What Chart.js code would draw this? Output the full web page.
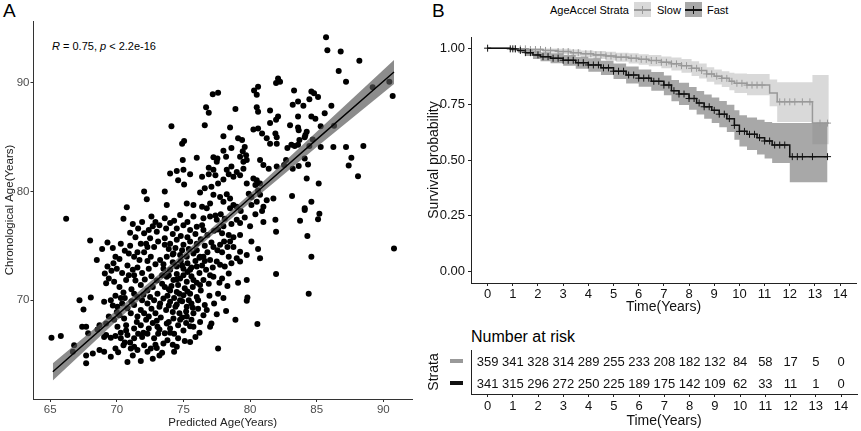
<!DOCTYPE html>
<html>
<head>
<meta charset="utf-8">
<script src="https://cdn.jsdelivr.net/npm/chart.js@4.4.0/dist/chart.umd.min.js"></script>
<style>
  body { margin: 0; width: 861px; height: 431px; background: #fff; position: relative; overflow: hidden;
         font-family: "Liberation Sans", Arial, sans-serif; }
  canvas { position: absolute; }
  .lbl { position: absolute; color: #000; white-space: nowrap; line-height: 1; }
  .key { position: absolute; width: 17px; height: 15px; }
  .key .h { position: absolute; left: 0; right: 0; top: 7px; height: 1.5px; }
  .key .v { position: absolute; left: 8px; top: 4px; width: 1px; height: 8px; }
</style>
</head>
<body>
<div class="lbl" style="left:3px;top:1px;font-size:19px">A</div>
<div class="lbl" style="left:432px;top:1px;font-size:19px">B</div>
<div class="lbl" style="left:52px;top:41px;font-size:11px"><i>R</i> = 0.75, <i>p</i> &lt; 2.2e-16</div>

<div class="lbl" style="left:550px;top:5px;font-size:11px">AgeAccel Strata</div>
<div class="key" style="left:634px;top:2px;background:#d9d9d9"><div class="h" style="background:#999"></div><div class="v" style="background:#999"></div></div>
<div class="lbl" style="left:657px;top:5px;font-size:11px">Slow</div>
<div class="key" style="left:685px;top:2px;background:#a8a8a8"><div class="h" style="background:#111"></div><div class="v" style="background:#111"></div></div>
<div class="lbl" style="left:707px;top:5px;font-size:11px">Fast</div>

<div class="lbl" style="left:471px;top:329px;font-size:16px">Number at risk</div>

<canvas id="scatter" width="420" height="431" style="left:0;top:0"></canvas>
<canvas id="km" width="441" height="320" style="left:420px;top:0"></canvas>
<canvas id="risk" width="441" height="86" style="left:420px;top:345px"></canvas>

<script>
// ---- panel A: predicted vs chronological age ----
const ageTicksX = [65, 70, 75, 80, 85, 90];
const ageTicksY = [70, 80, 90];

// [predicted, chronological]
const samples = [
  [72.05,80.0],[72.25,79.3],[70.75,78.55],
  [82.1,90.4],[82.25,90.1],[81.95,90.0],[80.6,89.65],[80.3,89.3],[80.5,88.9],[77.2,88.95],[77.6,89.1],
  [78.9,87.6],[76.7,87.75],[76.9,87.25],[80.5,87.75],[80.6,87.35],[81.5,87.45],[82.1,86.9],[81.95,86.6],
  [74.1,86.0],[76.6,86.1],[78.5,85.9],[80.25,85.7],[80.6,85.8],[81.5,86.3],[80.9,85.35],[81.25,84.9],
  [81.9,85.35],[82.0,85.0],[78.0,85.1],[74.9,84.4],[75.05,84.65],[79.1,84.9],[79.4,84.75],[81.5,84.4],
  [82.0,84.4],[79.6,84.1],[79.45,83.7],[79.7,83.35],[79.25,83.2],[79.5,82.75],[78.0,83.75],[78.2,83.2],
  [77.55,83.05],[77.25,83.15],[78.6,84.0],[74.95,82.9],[76.0,83.1],[80.75,82.9],[81.0,82.45],[76.9,82.2],
  [77.25,82.0],[77.5,82.75],[78.25,82.0],[78.6,82.3],[79.0,81.8],[79.25,81.5],[78.75,81.35],[79.5,82.1],
  [79.75,82.9],[80.25,81.2],[80.5,81.05],[80.75,80.75],[80.4,80.6],[81.4,82.1],[82.0,82.3],[82.55,82.45],
  [74.0,81.65],[74.5,81.9],[75.0,82.0],[75.5,81.6],[74.6,81.05],[75.05,80.65],[76.4,81.35],[76.9,81.6],
  [77.4,81.5],[78.0,81.1],[78.4,81.6],[77.6,80.75],[73.6,80.0],[76.25,79.9],[76.6,80.3],[77.1,80.45],
  [77.25,79.7],[77.75,79.5],[78.25,79.75],[78.0,79.05],[78.5,79.35],[78.75,78.75],[79.75,80.75],[79.9,79.8],
  [80.1,79.5],[80.6,80.1],[80.75,79.7],[80.1,78.75],[80.5,79.05],[81.0,78.6],[81.25,79.2],[81.75,79.35],
  [73.75,78.75],[75.25,78.9],[75.75,78.75],[76.4,78.6],[77.0,78.9],[76.75,78.45],[78.5,78.45],[79.0,78.6],
  [85.7,94.2],[85.8,93.0],[86.8,92.9],[88.2,92.05],[86.65,91.1],[87.2,90.1],[90.45,90.1],[90.7,88.8],
  [89.2,89.6],[83.3,89.3],[84.6,89.2],[84.8,89.05],[85.1,88.7],[84.45,88.5],[83.2,88.0],[83.6,88.3],
  [84.0,87.9],[86.1,87.9],[85.6,87.2],[83.6,86.9],[84.6,86.9],[84.9,86.7],[83.0,86.1],[83.6,85.9],
  [83.65,85.65],[84.25,85.5],[85.3,86.0],[86.3,86.05],[83.7,84.75],[84.1,85.0],[84.15,85.2],[83.1,84.3],
  [83.35,84.2],[83.6,84.3],[82.8,84.0],[84.7,84.8],[84.45,84.2],[85.3,84.1],[86.25,84.1],[87.2,84.1],
  [88.5,84.2],[87.6,83.1],[87.4,82.4],[88.1,81.4],[82.7,82.9],[83.2,82.1],[83.65,82.35],[84.1,83.05],
  [84.35,82.5],[84.25,81.2],[85.15,80.75],[83.15,79.6],[84.6,79.05],[84.1,78.45],
  [66.2,77.5],[70.5,77.5],[68.0,75.5],[69.3,75.3],[69.7,74.8],[68.9,74.7],[70.6,74.55],[70.9,74.3],
  [71.3,74.0],[71.55,74.4],[72.05,74.4],[72.55,74.0],[69.9,74.0],[68.5,73.7],[69.3,73.1],[69.75,73.4],
  [70.8,73.2],[71.2,72.8],[71.55,73.0],[70.9,72.3],[70.7,71.85],[72.05,76.15],[72.4,76.45],[72.7,76.8],
  [72.2,75.2],[72.8,74.9],[71.8,75.2],[69.1,72.45],[69.4,72.0],[69.8,71.7],[69.2,71.55],[67.2,70.0],
  [68.05,70.25],[67.5,69.15],[69.05,69.85],[69.55,70.0],[69.9,70.4],[70.3,70.2],[71.8,71.4],[72.3,70.9],
  [72.7,71.2],[73.05,70.6],[69.7,69.5],[70.05,69.4],[70.4,69.7],[70.8,69.25],[71.3,69.55],[71.55,70.3],
  [71.9,70.0],[72.3,69.7],[72.8,70.0],[73.2,69.4],[69.4,68.5],[69.8,68.2],[70.2,68.6],[70.55,68.3],
  [71.05,68.8],[71.55,68.5],[72.05,68.8],[72.4,68.5],[72.9,68.8],[67.4,67.55],[67.7,67.55],[68.7,67.7],
  [69.2,67.85],[70.05,67.55],[70.7,67.7],[71.3,67.4],[71.8,67.7],[72.4,67.4],[73.05,67.55],[65.1,66.55],
  [65.8,66.7],[66.8,65.85],[67.85,66.95],[68.55,67.3],[69.05,66.6],[69.2,66.8],[69.55,66.55],[69.9,66.7],
  [70.3,66.5],[70.8,66.8],[71.3,66.5],[71.9,66.6],[72.3,66.9],[72.8,66.5],[66.7,65.25],[67.7,64.9],
  [68.2,65.1],[68.7,65.4],[69.05,65.25],[69.55,64.8],[69.9,65.55],[70.5,65.85],[71.05,65.55],[71.3,65.7],
  [71.55,65.4],[72.05,65.85],[72.3,65.25],[72.55,65.55],[67.7,64.2],[71.8,64.4],
  [81.9,77.4],[81.95,76.3],[81.0,77.2],[80.0,76.8],[79.25,77.1],[79.0,77.4],[77.9,76.15],[78.4,76.0],
  [78.75,75.8],[78.5,75.4],[79.25,76.0],[80.1,75.4],[80.6,74.7],[80.75,73.85],[81.95,72.4],[77.75,75.1],
  [78.05,75.4],[77.25,74.9],[77.55,74.6],[78.75,74.9],[79.25,74.45],[79.75,74.15],[79.0,73.85],[78.4,74.0],
  [78.6,73.4],[79.25,73.55],[76.5,74.0],[77.0,73.7],[77.5,73.55],[77.75,73.25],[78.1,73.1],[78.4,72.45],
  [79.1,71.6],[79.75,71.85],[79.8,70.25],[79.75,69.95],[77.0,72.3],[77.25,72.15],[76.5,71.85],[76.25,71.4],
  [76.9,71.5],[76.95,70.4],[76.6,69.55],[76.75,69.1],[77.5,68.7],[78.9,68.2],[80.55,67.8],[77.1,67.85],
  [77.0,67.55],[76.25,68.0],[75.75,67.55],[77.6,65.55],[75.1,66.25],[75.5,66.15],[74.5,65.7],[74.3,65.25],
  [73.4,65.15],[73.5,66.0],[74.6,66.5],[75.25,68.5],[75.75,68.8],[75.6,68.2],[74.75,68.2],[74.25,68.3],
  [73.75,67.85],[74.0,67.4],[73.6,66.95],[75.6,69.7],[75.25,69.4],[74.75,70.0],[74.4,69.4],[74.0,69.85],
  [73.5,70.15],[73.25,69.7],[75.5,70.6],[75.0,70.45],[74.5,70.75],[74.0,70.9],[73.6,71.2],[75.75,71.85],
  [75.25,71.7],[74.75,72.0],[74.25,71.85],[73.75,72.15],[73.4,72.3],[76.0,73.1],[75.5,72.8],[75.0,72.9],
  [74.5,73.1],[74.0,72.8],[73.5,72.9],[76.25,74.0],[75.75,74.3],[75.25,74.0],[74.75,74.15],[74.25,74.3],
  [73.75,74.0],[73.25,73.7],[76.0,75.2],[75.5,75.4],[75.0,75.1],[74.5,75.55],[74.0,75.2],[73.6,75.7],
  [76.5,76.45],[76.0,76.75],[75.5,76.45],[75.0,76.9],[74.5,76.6],[74.0,77.1],[73.6,77.55],[75.75,77.7],
  [74.75,77.85],[77.0,77.7],[77.5,77.4],[76.5,77.55],
  [84.1,78.3],[85.2,77.95],[85.1,77.45],[83.75,77.3],[84.3,75.9],[84.6,74.0],[84.4,70.6],[90.8,74.75],
  [72.6,77.7],[72.9,77.2],[73.0,76.3],[72.5,75.7],[73.1,75.4],[71.4,75.8],[71.0,75.0],[72.3,73.6],
  [72.9,73.3],[71.9,72.5],[72.6,72.2],[73.0,71.8],[71.4,71.8],[72.1,71.9],[70.2,71.2],[70.5,70.7],
  [71.1,71.0],[72.0,70.5],[71.1,69.9],[70.0,68.9],[72.6,69.2],[71.8,69.1],[70.7,67.2],[72.0,67.0],
  [73.0,68.1],[72.7,67.9],[73.1,66.9],[71.0,66.1],[72.9,65.9],[70.1,65.2],[73.2,64.9],[72.7,64.6],
  [71.2,64.9],[70.8,64.3],[73.7,76.6],[74.2,76.1],[74.8,75.9],[75.3,75.8],[75.9,76.1],[76.3,75.6],
  [76.8,76.0],[77.3,76.4],[76.6,75.0],[77.1,75.3],[73.9,74.7],[74.4,74.8],[74.9,74.6],[75.4,74.7],
  [76.0,74.6],[76.8,74.4],[73.5,73.3],[74.2,73.5],[74.8,73.6],[75.3,73.4],[75.9,73.6],[76.4,73.2],
  [73.9,72.3],[74.5,72.4],[75.0,72.3],[75.6,72.2],[76.2,72.5],[73.4,71.5],[74.1,71.3],[74.6,71.4],
  [75.1,71.1],[75.7,71.2],[76.3,70.9],[73.8,70.4],[74.3,70.2],[74.9,69.9],[75.4,70.0],[76.0,70.3],
  [73.7,69.1],[74.2,68.9],[74.7,68.8],[75.2,68.95],[76.1,69.2],[73.3,68.4],[73.9,68.0],[74.6,67.7],
  [75.2,67.9],[73.2,67.3],[74.3,66.9],[75.0,67.2],[76.2,67.0],[73.8,66.3],[74.2,65.9],[75.9,66.6],
  [73.0,65.6],[77.4,77.8],[78.1,77.5],[78.6,77.0],[79.6,77.6],[80.4,77.9],[79.3,78.2],[80.9,78.2],
  [78.0,76.8],[77.6,76.5],[70.2,73.8],[70.0,72.9],[69.6,72.7],[70.4,72.5],[70.3,75.2],[71.0,76.2],
  [71.6,76.6],[71.9,77.2],[71.2,77.0],[77.9,72.0],[78.3,71.3],[77.6,70.6],[78.0,70.2],[77.3,69.7],
  [78.2,69.0],[76.5,68.6],[77.7,71.6],[76.7,72.8],[77.2,73.0],
  [71.7,73.7],[72.3,74.9],[71.3,72.3],[72.4,72.9],[70.6,70.2],[71.3,70.6],[72.5,70.3],[71.5,68.0],
  [72.2,68.2],[70.3,67.0],[71.6,66.9],[70.6,66.1],[73.6,75.1],[74.2,74.2],[74.9,73.2],[75.6,73.0],
  [76.2,73.9],[74.5,71.9],[75.3,72.6],[76.0,71.6],[73.9,71.0],[74.7,70.6],[75.3,70.8],[76.1,70.0],
  [74.5,69.6],[75.7,69.3],[73.9,69.5],[74.9,68.4],[75.5,67.6],[74.0,67.0],[76.6,73.6],[77.9,74.4],
  [78.3,74.9],[76.4,76.9],[77.8,77.9],[75.3,77.2],[74.3,77.3],[73.2,76.9]
];

// fitted line and its confidence band
const fitX  = [65.2, 70, 75, 80, 85, 90.8];
const fitY  = [63.4, 68.6, 74.0, 79.4, 84.8, 91.0];
const fitLo = [62.6, 68.1, 73.7, 79.0, 84.1, 89.9];
const fitHi = [64.2, 69.1, 74.3, 79.8, 85.5, 92.1];

// ---- panel B: survival by AgeAccel strata ----
const timeTicks = [0,1,2,3,4,5,6,7,8,9,10,11,12,13,14];
const survTicks = [0, 0.25, 0.5, 0.75, 1];

const slowTime  = [0, 1.0, 1.6, 2.2, 2.8, 3.3, 3.7, 4.2, 4.7, 5.1, 5.6, 6.0, 6.4, 6.9, 7.3, 7.7, 8.1, 8.4, 8.7, 9.0, 9.3, 9.6, 9.8, 10.3, 11.2, 11.5, 12.9, 13.55];
const slowSurv  = [1, 0.997, 0.994, 0.99, 0.985, 0.98, 0.975, 0.97, 0.965, 0.96, 0.955, 0.95, 0.945, 0.937, 0.93, 0.922, 0.91, 0.9, 0.885, 0.875, 0.865, 0.852, 0.843, 0.835, 0.80, 0.76, 0.665, 0.665];
const slowUpper = [1, 1, 1, 0.999, 0.997, 0.994, 0.99, 0.987, 0.984, 0.98, 0.977, 0.973, 0.97, 0.963, 0.958, 0.952, 0.942, 0.932, 0.915, 0.905, 0.897, 0.89, 0.887, 0.885, 0.86, 0.848, 0.88, 0.88];
const slowLower = [1, 0.99, 0.986, 0.98, 0.973, 0.965, 0.958, 0.952, 0.945, 0.939, 0.932, 0.926, 0.919, 0.91, 0.9, 0.89, 0.876, 0.864, 0.85, 0.838, 0.826, 0.812, 0.8, 0.79, 0.74, 0.67, 0.57, 0.57];

const fastTime  = [0, 0.9, 1.2, 1.5, 1.8, 2.1, 2.5, 3.0, 3.5, 4.0, 4.5, 5.0, 5.5, 6.0, 6.5, 7.0, 7.3, 7.6, 8.0, 8.3, 8.6, 8.9, 9.2, 9.5, 9.8, 10.0, 10.3, 10.7, 11.0, 11.3, 12.0, 13.5];
const fastSurv  = [1, 0.997, 0.99, 0.98, 0.97, 0.962, 0.955, 0.946, 0.935, 0.925, 0.912, 0.897, 0.88, 0.866, 0.852, 0.835, 0.81, 0.795, 0.775, 0.755, 0.738, 0.722, 0.705, 0.685, 0.655, 0.628, 0.615, 0.60, 0.585, 0.567, 0.515, 0.515];
const fastUpper = [1, 1, 0.998, 0.994, 0.988, 0.982, 0.977, 0.97, 0.962, 0.955, 0.944, 0.932, 0.918, 0.905, 0.893, 0.878, 0.858, 0.845, 0.826, 0.808, 0.793, 0.779, 0.764, 0.747, 0.722, 0.7, 0.69, 0.68, 0.67, 0.665, 0.665, 0.665];
const fastLower = [1, 0.99, 0.98, 0.965, 0.952, 0.942, 0.933, 0.922, 0.908, 0.895, 0.88, 0.862, 0.842, 0.827, 0.81, 0.79, 0.763, 0.746, 0.725, 0.703, 0.684, 0.666, 0.647, 0.625, 0.59, 0.56, 0.545, 0.525, 0.507, 0.487, 0.40, 0.40];

const slowCensor = [1.1,1.3,1.5,1.7,1.9,2.1,2.3,2.5,2.8,3.0,3.2,3.4,3.6,3.9,4.1,4.3,4.5,4.7,4.9,5.1,5.3,5.5,5.7,5.9,
                    6.1,6.3,6.5,6.7,6.9,7.1,7.3,7.5,7.7,7.9,8.1,8.3,8.5,8.7,8.9,9.1,9.3,9.5,9.7,9.9,10.1,10.3,10.5,
                    10.7,10.9,11.6,11.8,12.0,12.2,12.5,12.8,13.2,13.5];
const fastCensor = [0,0.9,1.0,1.1,1.3,1.5,1.7,2.0,2.2,2.4,2.6,2.8,3.0,3.2,3.4,3.6,3.8,4.0,4.2,4.4,4.6,4.8,5.0,5.2,5.4,
                    5.6,5.8,6.0,6.2,6.4,6.6,6.8,7.0,7.2,7.4,7.6,7.8,8.0,8.2,8.4,8.6,8.8,9.0,9.2,9.4,9.6,9.8,10.0,
                    10.2,10.4,10.6,10.8,11.0,11.2,11.4,11.6,11.8,12.1,12.3,12.5,12.9,13.5];

// ---- number at risk ----
const strata = ['Slow', 'Fast'];
const riskTimes = [0,1,2,3,4,5,6,7,8,9,10,11,12,13,14];
const slowRisk = [359,341,328,314,289,255,233,208,182,132,84,58,17,5,0];
const fastRisk = [341,315,296,272,250,225,189,175,142,109,62,33,11,1,0];

const strataColor = ['#999999', '#111111'];
const FONT = '"Liberation Sans", Arial, sans-serif';
Chart.defaults.font.family = FONT;
Chart.defaults.animation = false;
Chart.defaults.responsive = false;
Chart.defaults.plugins.legend.display = false;
Chart.defaults.plugins.tooltip.enabled = false;

function fixedTicks(values) {
  return s => { s.ticks = values.map(v => ({ value: v })); };
}
function survAt(times, surv, t) {
  let v = surv[0];
  times.forEach((ti, i) => { if (ti <= t) v = surv[i]; });
  return v;
}
function xy(xs, ys) { return xs.map((x, i) => ({ x: x, y: ys[i] })); }

// ---------- chart A ----------
new Chart(document.getElementById('scatter'), {
  type: 'scatter',
  data: {
    datasets: [
      { type: 'line', data: xy(fitX, fitHi), borderWidth: 0, pointRadius: 0, fill: '+1',
        backgroundColor: 'rgba(85,85,85,0.68)', order: 1 },
      { type: 'line', data: xy(fitX, fitLo), borderWidth: 0, pointRadius: 0, fill: false, order: 1 },
      { type: 'line', data: xy(fitX, fitY), borderColor: '#000', borderWidth: 1.4, pointRadius: 0, fill: false, order: 0 },
      { data: samples.map(p => ({ x: p[0], y: p[1] })), pointRadius: 3, backgroundColor: '#000',
        borderWidth: 0, order: 2 }
    ]
  },
  options: {
    layout: { padding: { left: 0, top: 21, right: 8, bottom: 0 } },
    scales: {
      x: {
        type: 'linear', min: 63.75, max: 92.15,
        afterBuildTicks: fixedTicks(ageTicksX),
        afterFit: s => { s.height = 32; },
        grid: { drawOnChartArea: false, tickLength: 3, color: '#333' },
        border: { color: '#333', width: 1 },
        ticks: { color: '#4d4d4d', font: { size: 11.5 }, padding: 1, maxRotation: 0 },
        title: { display: true, text: 'Predicted Age(Years)', color: '#222', font: { size: 11.5 }, padding: { top: 0, bottom: 1 } }
      },
      y: {
        type: 'linear', min: 60.9, max: 95.7,
        afterBuildTicks: fixedTicks(ageTicksY),
        afterFit: s => { s.width = 33.5; },
        grid: { drawOnChartArea: false, tickLength: 3, color: '#333' },
        border: { color: '#333', width: 1 },
        ticks: { color: '#4d4d4d', font: { size: 11.5 }, padding: 1 },
        title: { display: true, text: 'Chronological Age(Years)', color: '#222', font: { size: 11.5 }, padding: { top: 3, bottom: 0 } }
      }
    }
  }
});

// ---------- chart B ----------
const stepLine = { pointRadius: 0, stepped: 'before', fill: false };
new Chart(document.getElementById('km'), {
  type: 'line',
  data: {
    datasets: [
      Object.assign({}, stepLine, { data: xy(fastTime, fastUpper), borderWidth: 0, fill: '+1', backgroundColor: 'rgba(0,0,0,0.34)', order: 6 }),
      Object.assign({}, stepLine, { data: xy(fastTime, fastLower), borderWidth: 0, order: 6 }),
      Object.assign({}, stepLine, { data: xy(slowTime, slowUpper), borderWidth: 0, fill: '+1', backgroundColor: 'rgba(128,128,128,0.3)', order: 5 }),
      Object.assign({}, stepLine, { data: xy(slowTime, slowLower), borderWidth: 0, order: 5 }),
      Object.assign({}, stepLine, { data: xy(slowTime, slowSurv), borderColor: strataColor[0], borderWidth: 1.5, order: 3 }),
      Object.assign({}, stepLine, { data: xy(fastTime, fastSurv), borderColor: strataColor[1], borderWidth: 1.5, order: 2 }),
      { data: slowCensor.map(t => ({ x: t, y: survAt(slowTime, slowSurv, t) })), showLine: false,
        pointStyle: 'cross', pointRadius: 3.5, borderColor: strataColor[0], borderWidth: 1, order: 1 },
      { data: fastCensor.map(t => ({ x: t, y: survAt(fastTime, fastSurv, t) })), showLine: false,
        pointStyle: 'cross', pointRadius: 3.5, borderColor: strataColor[1], borderWidth: 1, order: 0 }
    ]
  },
  options: {
    layout: { padding: { left: 0, top: 37, right: 4, bottom: 0 } },
    scales: {
      x: {
        type: 'linear', min: -0.66, max: 14.63,
        afterBuildTicks: fixedTicks(timeTicks),
        afterFit: s => { s.height = 37; },
        grid: { drawOnChartArea: false, tickLength: 3, color: '#222' },
        border: { color: '#222', width: 1 },
        ticks: { color: '#111', font: { size: 13 }, padding: 1, maxRotation: 0, autoSkip: false },
        title: { display: true, text: 'Time(Years)', color: '#111', font: { size: 14 }, padding: { top: 0, bottom: 4 } }
      },
      y: {
        type: 'linear', min: -0.05, max: 1.05,
        afterBuildTicks: fixedTicks(survTicks),
        afterFit: s => { s.width = 51; },
        grid: { drawOnChartArea: false, tickLength: 3, color: '#222' },
        border: { color: '#222', width: 1 },
        ticks: { color: '#111', font: { size: 13 }, padding: 3, callback: v => v.toFixed(2) },
        title: { display: true, text: 'Survival probability', color: '#111', font: { size: 14 }, padding: { top: 6, bottom: 0 } }
      }
    }
  }
});

// ---------- risk table ----------
const riskText = {
  id: 'riskText',
  afterDatasetsDraw(chart) {
    const ctx = chart.ctx;
    const ys = chart.scales.y;
    ctx.save();
    ctx.font = '13px ' + FONT;
    ctx.fillStyle = '#111';
    ctx.textAlign = 'center';
    ctx.textBaseline = 'middle';
    chart.data.datasets.forEach((ds, di) => {
      chart.getDatasetMeta(di).data.forEach((pt, i) => {
        ctx.fillText(String(ds.counts[i]), pt.x, pt.y + 1);
      });
    });
    // strata keys in place of the y tick labels
    strata.forEach((s, i) => {
      const y = ys.getPixelForValue(i);
      ctx.fillStyle = strataColor[i];
      ctx.fillRect(30, y - 2, 13, 4);
    });
    ctx.restore();
  }
};

new Chart(document.getElementById('risk'), {
  type: 'scatter',
  data: {
    datasets: [
      { data: riskTimes.map(t => ({ x: t, y: strata[0] })), counts: slowRisk, pointRadius: 0 },
      { data: riskTimes.map(t => ({ x: t, y: strata[1] })), counts: fastRisk, pointRadius: 0 }
    ]
  },
  options: {
    layout: { padding: { left: 0, top: 5, right: 4, bottom: 0 } },
    scales: {
      x: {
        type: 'linear', min: -0.66, max: 14.63,
        afterBuildTicks: fixedTicks(timeTicks),
        afterFit: s => { s.height = 37; },
        grid: { drawOnChartArea: false, tickLength: 3, color: '#222' },
        border: { color: '#222', width: 1 },
        ticks: { color: '#111', font: { size: 13 }, padding: 2, maxRotation: 0, autoSkip: false },
        title: { display: true, text: 'Time(Years)', color: '#111', font: { size: 14 }, padding: { top: 0, bottom: 1 } }
      },
      y: {
        type: 'category', labels: strata, offset: true,
        afterFit: s => { s.width = 51; },
        grid: { display: false },
        border: { color: '#222', width: 1 },
        ticks: { display: false },
        title: { display: true, text: 'Strata', color: '#111', font: { size: 14 }, padding: { top: 6, bottom: 0 } }
      }
    }
  },
  plugins: [riskText]
});
</script>
</body>
</html>
